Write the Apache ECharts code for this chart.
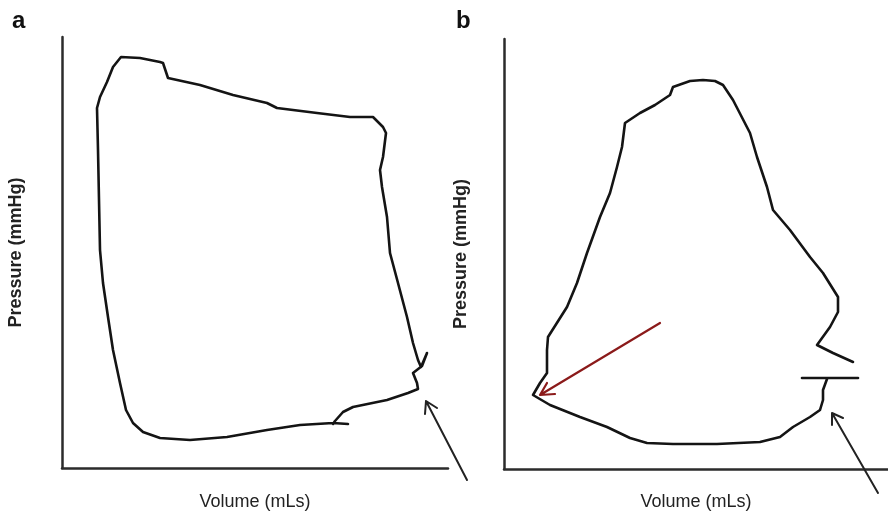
<!DOCTYPE html>
<html>
<head>
<meta charset="utf-8">
<script src="https://cdn.jsdelivr.net/npm/echarts@6/dist/echarts.min.js"></script>
<style>html,body{margin:0;padding:0;background:#fff}#c{width:888px;height:513px}</style>
</head>
<body>
<div id="c"></div>
<script>
// Panel labels and axis titles
var panelLabels = ['a', 'b'];
var xTitle = 'Volume (mLs)';
var yTitle = 'Pressure (mmHg)';

// Panel a: pressure-volume loop [volume, pressure] in arbitrary units
var loopA = [
  [143,22],[135.5,22.5],[119,21.5],[102.5,19],[82.5,15.5],[64,14],[49,15],[40.5,18],
  [35.5,22.5],[32,29],[29,42.5],[25.5,59],[23,75.5],[20.5,92.5],[19,109],[18.5,134],
  [18,159],[17.5,180],[19,185.5],[22.5,193],[25.5,200.5],[29.5,205.5],[39,205],[49,203],
  [50.5,202.5],[53,195],[69,191.5],[85.5,186.5],[102.5,182.5],[107.5,180],[127.5,177.5],
  [144,175.5],[155.5,175.5],[160.5,170.5],[162,167.5],[160.5,155.5],[159,149],[160,140.5],
  [162.5,125.5],[164,107.5],[168,92.5],[172.5,75.5],[175.5,62.5],[178,54],[179.5,50.5],
  [182.5,57.5],[180,51],[175.5,47.5],[177.5,42.5],[178,39.5],[173,37.5],[162.5,34],
  [145.5,30.5],[140.5,28],[136.5,23.5],[135.5,22]
];
// Panel a: black arrow (tail, tip, head, tip, head)
var arrowA = [[202.5,-6],[182,33.5],[187.5,30],[182,33.5],[181.5,27]];

// Panel b: pressure-volume loop
var loopB = [
  [161.5,45],[159.5,39.5],[159.5,34.5],[158,29.5],[153,26],[144.5,21],[138,16],[128,13.5],
  [106.5,12.5],[84.5,12.5],[71.5,13],[63,15.5],[51.5,21],[38,26],[23,32],[14.5,37],
  [18,43],[21.5,48],[21.5,59.5],[22,66],[31.5,81],[36.5,93],[41.5,108],[48,126],[53,138],
  [56.5,151],[59,161],[60.5,173],[68,178],[75.5,182],[83,187],[84.5,191],[93,194],
  [99.5,194.5],[105.5,194],[109.5,192],[114.5,184.5],[123,168],[126.5,156],[131.5,141],
  [134.5,129.5],[143,119.5],[153,106],[159.5,98],[167,86],[167,78.5],[163,71],[156.5,62],
  [164.5,58],[174.5,53.5]
];
var stubB = [[149,45.5],[177,45.5]];
var arrowB = [[187,-12],[164,28],[169.5,25.5],[164,28],[164,22]];
var redArrowB = [[78,73],[18,37],[25.5,37.5],[18,37],[21.5,43]];

var FONT = '"Liberation Sans", Arial, Helvetica, sans-serif';
var AX = '#2b2b2b';
var INK = '#141414';

function xAx(idx, max, gap) {
  return {
    type: 'value', gridIndex: idx, min: 0, max: max,
    axisLine: {show: true, onZero: false, lineStyle: {color: AX, width: 2.5}},
    axisTick: {show: false}, axisLabel: {show: false}, splitLine: {show: false},
    name: xTitle, nameLocation: 'middle', nameGap: gap,
    nameTextStyle: {fontFamily: FONT, fontSize: 18, color: '#222'}
  };
}
function yAx(idx, max, gap) {
  return {
    type: 'value', gridIndex: idx, min: 0, max: max,
    axisLine: {show: true, onZero: false, lineStyle: {color: AX, width: 2.5}},
    axisTick: {show: false}, axisLabel: {show: false}, splitLine: {show: false},
    name: yTitle, nameLocation: 'middle', nameGap: gap, nameRotate: 90,
    nameTextStyle: {fontFamily: FONT, fontSize: 18, fontWeight: 'bold', color: '#222'}
  };
}
function hiddenAx(idx, min, max) {
  return {type: 'value', gridIndex: idx, min: min, max: max, show: false};
}
function path(data, xi, color, width) {
  return {
    type: 'line', xAxisIndex: xi, yAxisIndex: xi, data: data,
    symbol: 'none', clip: false, silent: true, animation: false,
    lineStyle: {color: color, width: width, join: 'round', cap: 'round'}
  };
}

var chart = echarts.init(document.getElementById('c'), null, {renderer: 'canvas'});
chart.setOption({
  backgroundColor: '#fff',
  animation: false,
  grid: [
    {left: 62, top: 37, width: 386, height: 431, outerBoundsMode: 'none', containLabel: false},
    {left: 504, top: 39, width: 384, height: 430, outerBoundsMode: 'none', containLabel: false},
    // same scale as panel a, wider extent so the annotation arrow can leave the axes box
    {left: 62, top: 37, width: 430, height: 475, outerBoundsMode: 'none', containLabel: false}
  ],
  xAxis: [xAx(0, 193, 25), xAx(1, 192, 24), hiddenAx(2, 0, 215)],
  yAxis: [yAx(0, 215.5, 37), yAx(1, 215, 34), hiddenAx(2, -22, 215.5)],
  graphic: [
    {type: 'text', left: 12, top: 9, style: {text: panelLabels[0], font: 'bold 24px ' + FONT, fill: '#111'}},
    {type: 'text', left: 456, top: 9, style: {text: panelLabels[1], font: 'bold 24px ' + FONT, fill: '#111'}}
  ],
  series: [
    path(loopA, 0, INK, 2.6),
    path(arrowA, 2, '#222', 2),
    path(loopB, 1, INK, 2.6),
    path(stubB, 1, INK, 2.6),
    path(arrowB, 1, '#222', 2),
    path(redArrowB, 1, '#8b1a1a', 2.2)
  ]
});
</script>
</body>
</html>
